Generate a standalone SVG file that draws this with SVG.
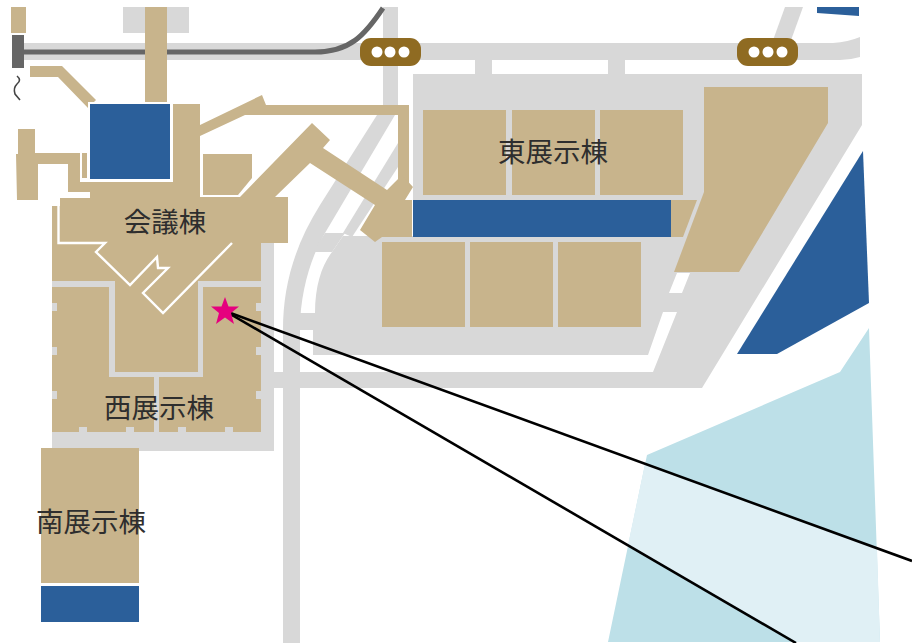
<svg xmlns="http://www.w3.org/2000/svg" width="912" height="643" viewBox="0 0 912 643">
<style>
.road{fill:#d8d8d8}
.bg{fill:#fff}
.tan{fill:#c8b48c}
.blue{fill:#2b5f9a}
.badge{fill:#8f6b22}
.dot{fill:#fff}
.lbl{font-family:"Noto Sans CJK JP","Noto Sans CJK SC",sans-serif;font-size:27.500px;fill:#2e2e2e;text-anchor:middle}
.link{fill:none;stroke:#000;stroke-width:2.600}
</style>
<rect width="912" height="643" fill="#fff"/>
<g id="water">
<path d="M647 455L840 372L869 328L880 642L608 642Z" fill="#bde0e8"/>
<path d="M645 464L877 548L880 642L797 642L628 545Z" fill="#e0f0f5"/>
</g>
<g id="roads">
<path class="road" d="M24 43H833Q848 42 860 37V57Q850 60 840 60H24Z"/>
<rect class="road" x="123" y="7" width="66" height="26"/>
<rect class="road" x="383" y="7" width="15" height="98"/>
<path class="road" d="M785 7H803L790 43H772Z"/>
<rect class="road" x="475" y="58" width="17" height="18"/>
<rect class="road" x="608" y="58" width="17" height="18"/>
<path class="road" d="M283 643V330C283 285 295 245 320 205L377 115H395L325 233C312 255 300 290 300 330V643Z"/>
<path class="road" d="M398 143V167L352 237L343 233Z"/>
<path class="road" d="M413 74H862V125L702 388H274V372H653L677 312H663L648 355H313V330H300V313H315C315 285 322 265 332 252L343 236H413Z"/>
<path class="road" d="M325 233H345L332 252H313Z"/>
<path class="bg" d="M669 293H682L690 273H677Z"/>
<rect class="road" x="261" y="243" width="13" height="208"/>
<rect class="road" x="52" y="432" width="222" height="19"/>
</g>
<g id="rail">
<rect x="12" y="35" width="12" height="33" fill="#666"/>
<path d="M24 52H315C350 52 365 35 383 8" fill="none" stroke="#666" stroke-width="5"/>
<path d="M17 76Q22 80 17 84Q13 88 15 94L20 100" fill="none" stroke="#444" stroke-width="1.600"/>
</g>
<g id="top-left-blocks">
<rect class="tan" x="11" y="7" width="15" height="26"/>
<rect class="tan" x="145" y="7" width="22" height="95"/>
<path class="tan" d="M30 66H62L96 100L88 108L58 77H30Z"/>
</g>
<g id="west-hall">
<path class="tan" d="M16 154H18V129H35V153H80V182H173V104H200V197H288V243H261V432H52V206H60V198H90V192H68V164H38V200H17Z"/>
<rect class="tan" x="82" y="153" width="5" height="25"/>
<path class="tan" d="M203 154H252V178L238 195H203Z"/>
<path fill="none" stroke="#fff" stroke-width="2.400" d="M58.500 206V243H105L96 252L130 285L157 257L158 268H168L143 293L163 313L232 243"/>
<path class="road" d="M52 281H115V372H198V281H261V287H203V377H159V432H154V377H109V287H52Z"/>
<rect class="road" x="52" y="303" width="5" height="8"/>
<rect class="road" x="52" y="347" width="5" height="8"/>
<rect class="road" x="52" y="391" width="5" height="8"/>
<rect class="road" x="256" y="303" width="5" height="8"/>
<rect class="road" x="256" y="347" width="5" height="8"/>
<rect class="road" x="256" y="391" width="5" height="8"/>
<rect class="road" x="79" y="427" width="8" height="5"/>
<rect class="road" x="126" y="427" width="8" height="5"/>
<rect class="road" x="178" y="427" width="8" height="5"/>
<rect class="road" x="225" y="427" width="8" height="5"/>
<text class="lbl" x="159" y="418">西展示棟</text>
</g>
<g id="conference">
<rect class="blue" x="89" y="103" width="82" height="77" stroke="#fff" stroke-width="2"/>
<path class="tan" d="M200 125L262 95L266 105H409V185H398V115H245L200 136Z"/>
<path class="tan" d="M240 197L312 123L330 140L323 148L387 190L402 175L413 187L405 200H412V237H382L375 242L360 230L375 205L310 163L275 197Z"/>
<text class="lbl" x="165" y="232">会議棟</text>
</g>
<g id="east-hall">
<rect class="tan" x="423" y="110" width="83" height="85"/>
<rect class="tan" x="512" y="110" width="83" height="85"/>
<rect class="tan" x="600" y="110" width="83" height="85"/>
<rect class="tan" x="382" y="242" width="83" height="85"/>
<rect class="tan" x="470" y="242" width="83" height="85"/>
<rect class="tan" x="558" y="242" width="83" height="85"/>
<rect class="blue" x="413" y="200" width="258" height="37"/>
<path class="tan" d="M671 200H697L683 237H671Z"/>
<path class="tan" d="M704 87H828V123L739 272H674L704 192Z"/>
<text class="lbl" x="553" y="162">東展示棟</text>
</g>
<g id="south-hall">
<rect class="tan" x="41" y="448" width="98" height="135"/>
<rect class="blue" x="41" y="586" width="98" height="36"/>
<text class="lbl" x="91" y="532">南展示棟</text>
</g>
<g id="bay-blocks">
<path class="blue" d="M863 151L869 303L777 354H737Z"/>
<path class="blue" d="M817 7H859V16L817 13Z"/>
</g>
<g id="badge-1">
<rect class="badge" x="360" y="38" width="61" height="28" rx="11"/>
<circle class="dot" cx="377" cy="52" r="5.500"/><circle class="dot" cx="390" cy="52" r="5.500"/><circle class="dot" cx="404" cy="52" r="5.500"/>
</g>
<g id="badge-2">
<rect class="badge" x="737" y="38" width="61" height="28" rx="11"/>
<circle class="dot" cx="754" cy="52" r="5.500"/><circle class="dot" cx="768" cy="52" r="5.500"/><circle class="dot" cx="782" cy="52" r="5.500"/>
</g>
<g id="connectors">
<path class="link" d="M225 311L912 561"/>
<path class="link" d="M225 311L796 643"/>
</g>
<g id="marker-star">
<path fill="#e6007e" d="M225 297L228.500 306.500L239 306.500L231 313L234 324L225 317.500L216 324L219 313L211 306.500L221.500 306.500Z"/>
</g>
</svg>
